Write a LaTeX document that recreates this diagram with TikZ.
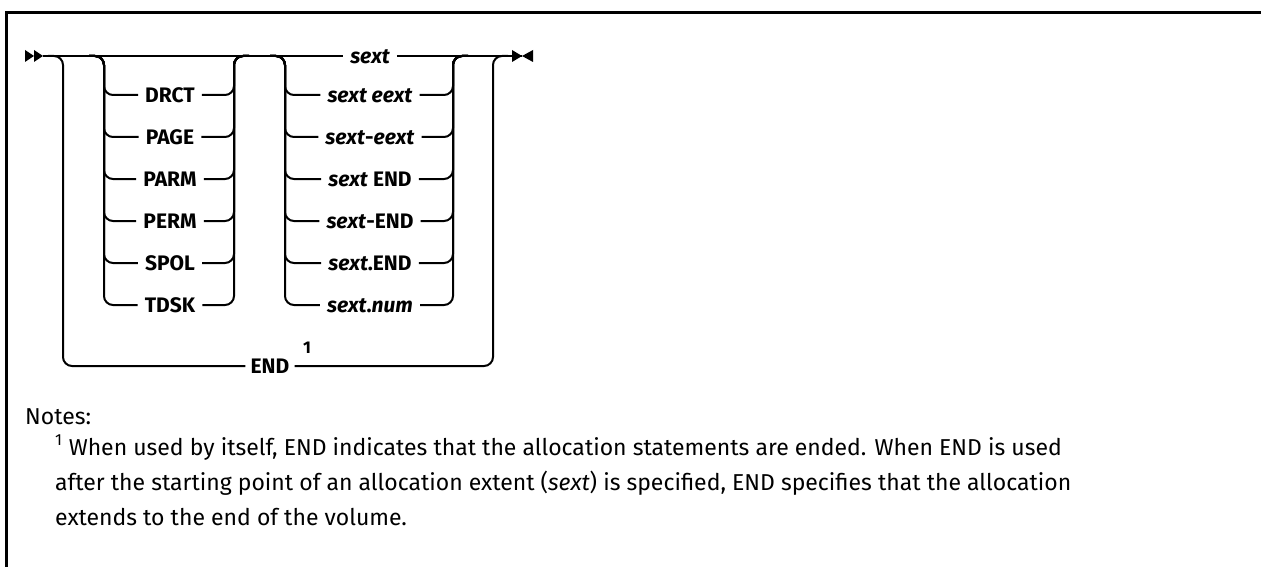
\documentclass[tikz,border=0pt]{standalone}
\usepackage{fontspec}
\setmainfont{Fira Sans}
\begin{document}
\begin{tikzpicture}[x=1pt,y=-1pt,
  rr/.style={line width=2pt, rounded corners=9pt},
  lab/.style={inner xsep=7pt, inner ysep=0pt, text height=15pt, text depth=0pt,
    font=\bfseries\fontsize{21}{26}\selectfont},
  note/.style={anchor=base west, inner sep=0pt, font=\fontsize{23}{28}\selectfont},
  tipfill/.style={fill=black}]
\useasboundingbox (0,0) rectangle (1261,567);
\clip (0,0) rectangle (1261,567);
% frame
\draw[line width=3pt] (6.5,600) -- (6.5,12.5) -- (1300,12.5);
% coordinates
\coordinate (s) at (43,56);
\coordinate (e) at (522,56);
\coordinate (oL) at (63,56);
\coordinate (oR) at (493,56);
\coordinate (gL) at (104,56);
\coordinate (gR) at (234,56);
\coordinate (hL) at (285,56);
\coordinate (hR) at (453,56);
% start / end symbols
\fill[tipfill] (25,50) -- (34,56) -- (25,62) -- cycle;
\fill[tipfill] (34,50) -- (43,56) -- (34,62) -- cycle;
\fill[tipfill] (512,50) -- (522,56) -- (512,62) -- cycle;
\fill[tipfill] (533,50) -- (522,56) -- (533,62) -- cycle;
% labels
\node[lab] (sext) at (370,56) {\itshape sext};
\node[lab] (g1) at (170,95) {DRCT};
\node[lab] (g2) at (170,137) {PAGE};
\node[lab] (g3) at (170,179) {PARM};
\node[lab] (g4) at (170,221) {PERM};
\node[lab] (g5) at (170,263) {SPOL};
\node[lab] (g6) at (170,305) {TDSK};
\node[lab] (h1) at (370,95) {\textit{sext eext}};
\node[lab] (h2) at (370,137) {\textit{sext}-\textit{eext}};
\node[lab] (h3) at (370,179) {\textit{sext} END};
\node[lab] (h4) at (370,221) {\textit{sext}-END};
\node[lab] (h5) at (370,263) {\textit{sext}.END};
\node[lab] (h6) at (370,305) {\textit{sext}.\textit{num}};
\node[lab, inner xsep=5pt] (end) at (270,366) {END};
\node[inner sep=0pt, font=\bfseries\fontsize{17}{17}\selectfont] (sup) at (307,348) {1};
% main line
\draw[rr] (s) -- (sext.west);
\draw[rr] (sext.east) -- (e);
% outer loop
\draw[rr] ([xshift=-15pt]oL) -- (oL) |- (end.west);
\draw[rr] (end.east) -| (oR) -- ([xshift=15pt]oR);
% first group
\foreach \n in {g1,g2,g3,g4,g5,g6}{
  \draw[rr] ([xshift=-15pt]gL) -- (gL) |- (\n.west);
  \draw[rr] (\n.east) -| (gR) -- ([xshift=15pt]gR);
}
% second group
\foreach \n in {h1,h2,h3,h4,h5,h6}{
  \draw[rr] ([xshift=-15pt]hL) -- (hL) |- (\n.west);
  \draw[rr] (\n.east) -| (hR) -- ([xshift=15pt]hR);
}
% notes
\node[note] (notes) at (25,424) {Notes:};
\node[note] (n1) at (55,455) {\textsuperscript{1} When used by itself, END indicates that the allocation statements are ended. When END is used};
\node[note] (n2) at (55,490) {after the starting point of an allocation extent (\textit{sext}) is specified, END specifies that the allocation};
\node[note] (n3) at (55,525) {extends to the end of the volume.};
\end{tikzpicture}
\end{document}
